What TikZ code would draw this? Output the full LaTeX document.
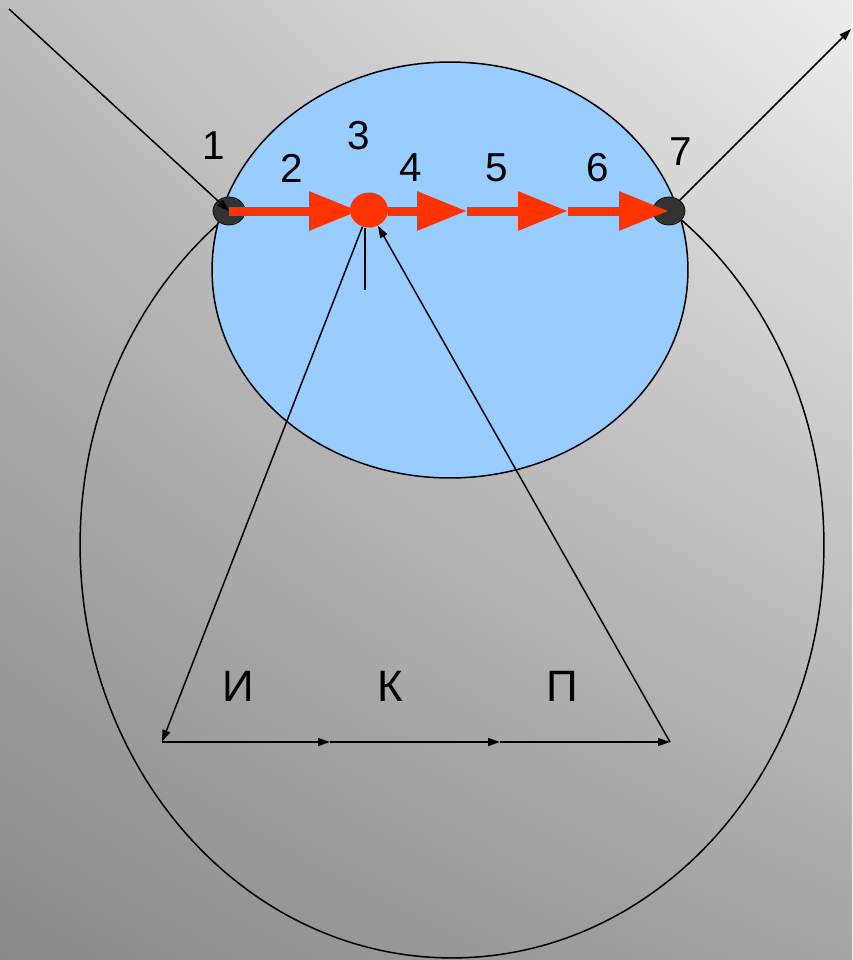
\documentclass[tikz,border=0pt]{standalone}
\usepackage{fontspec}
\setmainfont{Liberation Sans}
\usetikzlibrary{arrows.meta,shapes.geometric,shadings}
\definecolor{skyblue}{HTML}{99CCFF}
\definecolor{flame}{HTML}{FF3300}
\definecolor{pindark}{HTML}{333333}
\definecolor{bgll}{HTML}{8A8A8A}
\definecolor{bgul}{HTML}{BCBCBC}
\definecolor{bgur}{HTML}{EDEDED}
\definecolor{bglr}{HTML}{A4A4A4}
\begin{document}
\begin{tikzpicture}[
    x=0.02cm, y=-0.02cm,
    pin/.style={ellipse, fill=pindark, draw=black, line width=0.4pt, minimum width=0.64cm, minimum height=0.56cm, inner sep=0pt},
    hub/.style={ellipse, fill=flame, minimum width=0.76cm, minimum height=0.70cm, inner sep=0pt},
    flow/.style={draw=flame, line width=0.18cm, -{Triangle[length=1cm,width=0.74cm]}},
    ray/.style={draw, line width=0.85pt, -{Triangle[length=0.24cm,width=0.16cm]}},
    num/.style={font=\fontsize{23}{27}\selectfont, inner sep=0pt},
    letter/.style={font=\fontsize{25}{30}\selectfont, inner sep=0pt}
]
\useasboundingbox (0,0) rectangle (852,960);
\shade[lower left=bgll, upper left=bgul, upper right=bgur, lower right=bglr] (0,0) rectangle (852,960);

\draw[line width=0.85pt] (452,545) ellipse [x radius=7.44cm, y radius=8.26cm];
\draw[fill=skyblue, line width=0.85pt] (450,270) ellipse [x radius=4.76cm, y radius=4.16cm];

\node[pin] (p1) at (229,211) {};
\node[pin] (p7) at (669,211) {};
\node[hub] (p3) at (369,210) {};
\coordinate (p4) at (467,211);
\coordinate (p5) at (568,211);

\draw[flow, shorten >=0.2cm] (p1.center) -- (p1.center -| p3.center);
\draw[flow] (p3.east |- p4) -- (p4);
\draw[flow] (p4) -- (p5);
\draw[flow] (p5) -- (p7.center);

\coordinate (src) at (9,9);
\coordinate (dst) at (851,29);
\coordinate (tick) at (365,290);
\coordinate (b0) at (162,742);
\coordinate (b1) at (330,742);
\coordinate (b2) at (500,742);
\coordinate (b3) at (670,742);

\draw[ray] (src) -- (p1.center);
\draw[ray] (p7) -- (dst);
\draw[ray] (p3) -- (b0);
\draw[line width=0.85pt] (tick |- p3.south) -- (tick);
\draw[ray] (b3) -- (p3);
\draw[ray] (b0) -- (b1);
\draw[ray] (b1) -- (b2);
\draw[ray] (b2) -- (b3);

\node[num] (l1) at (214,146) {1};
\node[num] (l2) at (292,168) {2};
\node[num] (l3) at (359,136) {3};
\node[num] (l4) at (411,168) {4};
\node[num] (l5) at (497,168) {5};
\node[num] (l6) at (598,168) {6};
\node[num] (l7) at (681,152) {7};

\node[letter] (li) at (238,686) {И};
\node[letter] (lk) at (390,686) {К};
\node[letter] (lp) at (562,686) {П};
\end{tikzpicture}
\end{document}
